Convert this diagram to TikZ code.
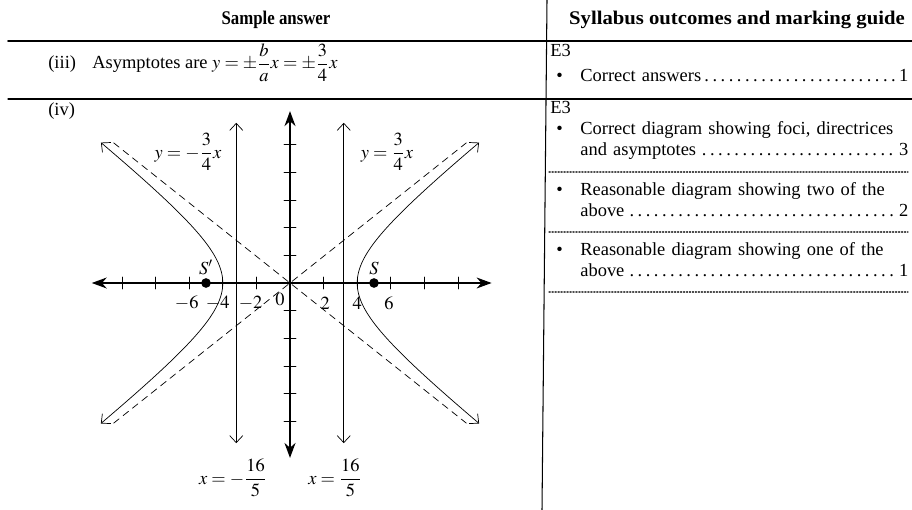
\documentclass[tikz,border=0pt]{standalone}
\usepackage{amsmath}
\usepackage{mathptmx}
\usepackage{fontspec}
\setmainfont{Liberation Serif}
\usetikzlibrary{arrows.meta,positioning}

\begin{document}
\begin{tikzpicture}[x=0.02cm,y=-0.02cm,font=\fontsize{10.5}{12.5}\selectfont,line cap=round,
  txt/.style={anchor=base west,inner sep=0pt},
  item/.style={anchor=base west,inner sep=0pt,text width=6.56cm,align=left},
  guide/.style={gray!60!black,densely dotted,line width=0.7pt},
  axisarr/.style={{Stealth[length=3mm,width=2.2mm]}-{Stealth[length=3mm,width=2.2mm]}},
  barb/.style={{Straight Barb[length=1.4mm,width=2.6mm]}-{Straight Barb[length=1.4mm,width=2.6mm]}},
  asym/.style={dash pattern=on 1.4mm off 1mm},
  focus/.style={circle,fill,inner sep=0pt,minimum size=5.5pt}]
\useasboundingbox (0,0) rectangle (912,510);
% table rules
\draw[line width=0.9pt] (8,41) -- (912,41);
\draw[line width=0.6pt] (8,99) -- (912,99);
\draw[line width=0.6pt] (547,0) -- (542,510);
\foreach \yy in {172,232,292} \draw[guide] (549,\yy) -- (908,\yy);
% headings
\node[xscale=0.87] (hsample) at (276,20) {\fontsize{11}{13}\selectfont\bfseries Sample answer};
\node[xscale=1.07] (hguide) at (737,20) {\fontsize{11}{13}\selectfont\bfseries Syllabus outcomes and marking guide};
% part (iii)
\node[txt] (iii) at (48,69) {(iii)};
\node[txt] (asy) at (92,69) {Asymptotes are $y=\pm\dfrac{b}{a}x=\pm\dfrac{3}{4}x$};
\node[txt] (e3a) at (550,57) {E3};
\node[txt] (bul1) at (556,82) {\textbullet};
\node[item] (mark1) at (580,82) {Correct answers\dotfill 1};
% part (iv)
\node[txt] (iv) at (48,115) {(iv)};
\node[txt] (e3b) at (550,113) {E3};
\node[txt] (bul2) at (556,134) {\textbullet};
\node[item] (mark2) at (580,134) {Correct diagram showing foci, directrices\\ and asymptotes\dotfill 3};
\node[txt] (bul3) at (556,195) {\textbullet};
\node[item] (mark3) at (580,195) {Reasonable diagram showing two of the\\ above\dotfill 2};
\node[txt] (bul4) at (556,255) {\textbullet};
\node[item] (mark4) at (580,255) {Reasonable diagram showing one of the\\ above\dotfill 1};
% hyperbola x^2/16 - y^2/9 = 1
\begin{scope}[shift={(290,283)},x=0.336cm,y=0.356cm]
\draw[asym] (-10.5,7.875) -- (10.5,-7.875);
\draw[asym] (-10.5,-7.875) -- (10.5,7.875);
\draw[barb] (-3.2,-9) -- (-3.2,9);
\draw[barb] (3.2,-9) -- (3.2,9);
\draw[barb] plot[domain=-1.695:1.695,samples=60,smooth,variable=\t] ({4*cosh(\t)},{3*sinh(\t)});
\draw[barb] plot[domain=-1.695:1.695,samples=60,smooth,variable=\t] ({-4*cosh(\t)},{3*sinh(\t)});
\draw[semithick,axisarr] (-11.8,0) -- (12,0);
\draw[line width=1.2pt,axisarr] (0,-9.83) -- (0,9.66);
\foreach \k in {-10,-8,-6,-4,-2,2,4,6,8,10}
  \draw (\k,0) +(0,-0.12cm) -- +(0,0.12cm);
\foreach \j in {-5,...,-1,1,2,...,5}
  \draw (0,\j*1.556) +(-0.12cm,0) -- +(0.12cm,0);
\foreach \k/\p in {-6/-6.15,-4/-4.3,-2/-2.35,2/2.1,4/4,6/5.9}
  \node at (\p,-1.12) {$\k$};
\node (O) at (-0.6,-0.95) {$0$};
\node[focus] (S) at (5,0) {};
\node[focus] (Sp) at (-5,0) {};
\node[above=1.5pt of S,inner sep=0pt] (Slab) {$S$};
\node[above=1.5pt of Sp,inner sep=0pt] (Splab) {$S'$};
\end{scope}
% line labels
\node (lneg) at (188,152) {$y=-\dfrac{3}{4}x$};
\node (lpos) at (387,152) {$y=\dfrac{3}{4}x$};
\node (dneg) at (233,478) {$x=-\dfrac{16}{5}$};
\node (dpos) at (335,478) {$x=\dfrac{16}{5}$};
\end{tikzpicture}
\end{document}
